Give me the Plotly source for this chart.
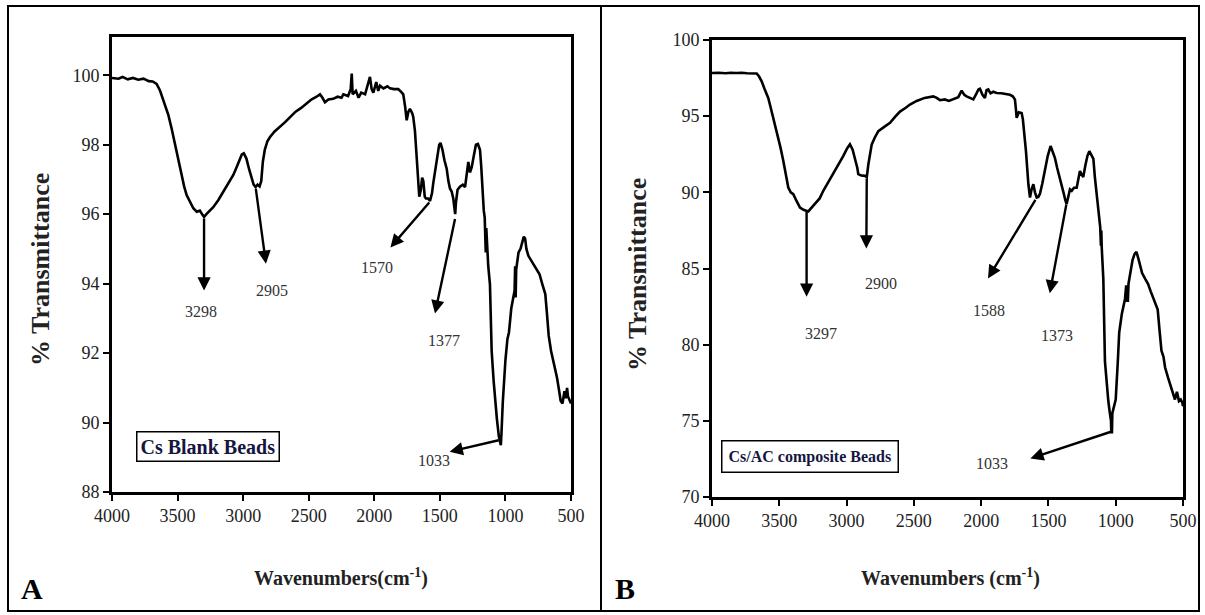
import plotly.graph_objects as go

# ---------------- FTIR spectra ----------------
# Panel A: chitosan (Cs) blank beads
wn_blank = [4000, 3950, 3920, 3880, 3840, 3800, 3760, 3720, 3690, 3660, 3634, 3615, 3596, 3570,
            3545, 3525, 3507, 3490, 3469, 3450, 3431, 3405, 3380, 3354, 3330, 3310, 3298, 3280,
            3250, 3228, 3190, 3151, 3110, 3075, 3050, 3030, 3010, 2995, 2975, 2955, 2935, 2920,
            2905, 2890, 2875, 2862, 2850, 2835, 2815, 2795, 2760, 2719, 2680, 2640, 2600, 2560,
            2520, 2480, 2440, 2414, 2395, 2376, 2350, 2313, 2280, 2250, 2236, 2200, 2180, 2172,
            2165, 2140, 2120, 2100, 2070, 2045, 2033, 2020, 2007, 1985, 1970, 1956, 1930, 1900,
            1880, 1850, 1817, 1790, 1779, 1765, 1753, 1740, 1728, 1710, 1703, 1690, 1682, 1672,
            1662, 1657, 1645, 1635, 1626, 1615, 1606, 1590, 1575, 1560, 1550, 1537, 1520, 1505,
            1495, 1480, 1465, 1448, 1435, 1423, 1410, 1398, 1390, 1383, 1377, 1365, 1347, 1325,
            1308, 1295, 1283, 1270, 1257, 1240, 1225, 1210, 1194, 1185, 1174, 1165, 1158, 1156,
            1153, 1150, 1146, 1140, 1131, 1118, 1105, 1090, 1080, 1065, 1050, 1040, 1035, 1030,
            1020, 1000, 985, 973, 955, 940, 930, 926, 922, 918, 912, 900, 885, 870, 860, 850,
            840, 825, 810, 798, 770, 740, 720, 696, 683, 670, 652, 630, 607, 590, 579, 565, 550,
            540, 530, 523, 510, 500]
t_blank = [99.92, 99.90, 99.95, 99.88, 99.92, 99.87, 99.90, 99.83, 99.82, 99.75, 99.56, 99.35, 99.18, 98.85,
           98.46, 98.10, 97.80, 97.50, 97.13, 96.80, 96.55, 96.35, 96.17, 96.07, 96.10, 95.98, 95.92, 96.00,
           96.10, 96.20, 96.40, 96.65, 96.90, 97.13, 97.35, 97.55, 97.72, 97.75, 97.60, 97.30, 97.00, 96.85,
           96.78, 96.85, 96.80, 96.95, 97.50, 97.85, 98.10, 98.22, 98.38, 98.51, 98.65, 98.80, 98.95, 99.05,
           99.18, 99.30, 99.38, 99.45, 99.35, 99.22, 99.30, 99.32, 99.38, 99.35, 99.45, 99.40, 99.60, 100.05,
           99.45, 99.55, 99.35, 99.50, 99.45, 99.75, 99.95, 99.60, 99.50, 99.80, 99.55, 99.70, 99.62, 99.68,
           99.62, 99.60, 99.60, 99.50, 99.45, 99.10, 98.70, 98.95, 99.03, 98.90, 98.80, 98.40, 97.98, 97.22,
           96.70, 96.50, 96.70, 97.05, 96.95, 96.50, 96.45, 96.45, 96.38, 96.60, 96.90, 97.22, 97.60, 98.00,
           98.05, 97.85, 97.55, 97.31, 96.95, 96.74, 96.65, 96.46, 96.20, 96.00, 96.35, 96.70, 96.79, 96.85,
           96.78, 97.10, 97.50, 97.20, 97.35, 97.70, 98.00, 98.02, 97.85, 97.40, 96.55, 96.10, 95.90, 95.20,
           95.80, 94.90, 95.60, 94.90, 94.50, 93.98, 92.06, 91.20, 90.63, 90.10, 89.60, 89.40, 89.35, 89.70,
           90.60, 91.80, 92.40, 92.60, 93.30, 93.60, 93.80, 94.50, 93.60, 94.40, 94.60, 94.90, 95.00, 95.25,
           95.35, 95.30, 95.00, 94.80, 94.70, 94.64, 94.45, 94.27, 94.00, 93.70, 93.12, 92.50, 92.06, 91.70,
           91.30, 90.90, 90.63, 90.55, 90.90, 90.70, 91.00, 90.75, 90.60, 90.55]

# Panel B: chitosan / activated carbon (Cs/AC) composite beads
wn_comp = [4000, 3950, 3900, 3860, 3820, 3780, 3740, 3700, 3668, 3650, 3631, 3610, 3582, 3565, 3545,
           3525, 3507, 3490, 3470, 3450, 3433, 3415, 3396, 3370, 3346, 3320, 3297, 3284, 3260, 3235,
           3200, 3173, 3140, 3099, 3060, 3024, 2995, 2975, 2955, 2937, 2920, 2913, 2890, 2863, 2850,
           2838, 2825, 2813, 2790, 2764, 2720, 2677, 2640, 2603, 2560, 2529, 2479, 2420, 2356, 2330,
           2306, 2270, 2240, 2207, 2170, 2145, 2125, 2108, 2085, 2058, 2040, 2020, 2009, 1990, 1972,
           1960, 1947, 1930, 1910, 1885, 1850, 1820, 1786, 1765, 1749, 1742, 1736, 1720, 1699, 1690,
           1682, 1667, 1649, 1637, 1625, 1612, 1600, 1587, 1575, 1563, 1545, 1526, 1505, 1484, 1470,
           1452, 1435, 1415, 1400, 1385, 1375, 1365, 1350, 1340, 1327, 1310, 1290, 1278, 1266, 1255,
           1241, 1225, 1210, 1196, 1185, 1166, 1155, 1141, 1130, 1122, 1115, 1110, 1107, 1104, 1100,
           1092, 1080, 1068, 1055, 1045, 1035, 1033, 1028, 1025, 1015, 1000, 985, 974, 955, 931, 922,
           918, 914, 910, 905, 890, 875, 860, 846, 830, 815, 804, 780, 760, 740, 716, 700, 688, 675,
           660, 645, 633, 610, 590, 575, 560, 545, 530, 517, 505, 500]
t_comp = [97.83, 97.85, 97.82, 97.85, 97.83, 97.85, 97.82, 97.83, 97.80, 97.60, 97.29, 96.80, 96.20, 95.60, 94.89,
          94.20, 93.58, 92.90, 92.06, 91.20, 90.31, 90.00, 89.88, 89.40, 89.00, 88.85, 88.80, 88.75, 89.00, 89.23,
          89.60, 90.10, 90.60, 91.19, 91.80, 92.39, 92.90, 93.15, 92.80, 92.27, 91.60, 91.19, 91.10, 91.08, 91.00,
          91.84, 92.60, 93.15, 93.60, 94.02, 94.30, 94.56, 94.95, 95.30, 95.55, 95.76, 96.00, 96.20, 96.30, 96.20,
          96.05, 96.10, 96.00, 96.10, 96.25, 96.68, 96.40, 96.30, 96.20, 96.10, 96.40, 96.75, 96.80, 96.40, 96.20,
          96.70, 96.75, 96.50, 96.60, 96.52, 96.50, 96.45, 96.40, 96.30, 96.10, 95.50, 94.89, 95.25, 95.20, 94.80,
          94.13, 92.71, 90.53, 89.66, 90.20, 90.53, 90.00, 89.66, 89.70, 89.90, 90.60, 91.41, 92.40, 93.04, 92.70,
          92.27, 91.60, 90.97, 90.40, 89.88, 89.50, 89.23, 89.80, 90.20, 90.10, 90.30, 90.30, 90.90, 91.40, 91.20,
          91.00, 91.80, 92.40, 92.70, 92.50, 92.20, 91.00, 89.75, 89.00, 88.45, 87.70, 86.50, 87.50, 86.40, 85.60,
          84.30, 78.90, 77.50, 76.30, 75.60, 75.00, 74.25, 74.25, 75.50, 75.80, 76.40, 78.80, 80.80, 82.00, 83.00, 83.90,
          82.80, 83.90, 82.80, 84.00, 84.80, 85.55, 85.95, 86.10, 85.60, 85.00, 84.70, 84.30, 84.00, 83.50, 82.90,
          82.50, 82.30, 81.00, 79.60, 79.20, 78.50, 77.80, 77.20, 76.80, 76.40, 76.90, 76.30, 76.40, 76.20, 75.95]

# Band assignments: (label, tail wn, tail %T, head wn, head %T, label wn, label %T)
bands_blank = [
    ("3298", 3298, 95.92, 3298, 93.80, 3322, 93.20),
    ("2905", 2905, 96.78, 2826, 94.57, 2780, 93.80),
    ("1570", 1571, 96.38, 1877, 95.04, 1979, 94.47),
    ("1377", 1382, 95.90, 1537, 93.14, 1469, 92.36),
    ("1033", 1040, 89.50, 1425, 89.16, 1542, 88.92),
]
bands_comp = [
    ("3297", 3297, 88.80, 3297, 83.15, 3190, 80.76),
    ("2900", 2850, 91.00, 2853, 86.32, 2745, 84.00),
    ("1588", 1590, 89.60, 1949, 84.35, 1945, 82.27),
    ("1373", 1365, 89.30, 1490, 83.37, 1440, 80.63),
    ("1033", 1030, 74.30, 1634, 72.53, 1920, 72.20),
]

yticks_blank = [88, 90, 92, 94, 96, 98, 100]
yticks_comp = [70, 75, 80, 85, 90, 95, 100]
xticks = [4000, 3500, 3000, 2500, 2000, 1500, 1000, 500]

W, H = 1205, 615
SERIF = "Liberation Serif, Times New Roman, serif"


def fx(p):
    return p / W


def fy(p):
    return 1 - p / H


fig = go.Figure()
fig.add_trace(go.Scatter(x=wn_blank, y=t_blank, mode="lines",
                         line=dict(color="black", width=2.6), xaxis="x", yaxis="y",
                         showlegend=False, hoverinfo="skip"))
fig.add_trace(go.Scatter(x=wn_comp, y=t_comp, mode="lines",
                         line=dict(color="black", width=2.6), xaxis="x2", yaxis="y2",
                         showlegend=False, hoverinfo="skip"))

axis_common = dict(showline=True, linecolor="black", linewidth=2.6, mirror=True,
                   ticks="outside", ticklen=6, tickwidth=2, tickcolor="black",
                   showgrid=False, zeroline=False, automargin=False,
                   tickfont=dict(family=SERIF, size=18, color="#222222"))

fig.update_layout(
    width=W, height=H,
    margin=dict(l=0, r=0, t=0, b=0, pad=0),
    paper_bgcolor="white", plot_bgcolor="white",
    xaxis=dict(domain=[fx(112), fx(571)], range=[4000, 500], tickvals=xticks,
               anchor="y", **axis_common),
    yaxis=dict(domain=[fy(492), fy(37)], range=[88, 101.1], tickvals=yticks_blank,
               anchor="x", **axis_common),
    xaxis2=dict(domain=[fx(712), fx(1183)], range=[4000, 500], tickvals=xticks,
                anchor="y2", **axis_common),
    yaxis2=dict(domain=[fy(497), fy(40)], range=[70, 100], tickvals=yticks_comp,
                anchor="x2", **axis_common),
)

annotations = []
for bands, xr, yr in ((bands_blank, "x", "y"), (bands_comp, "x2", "y2")):
    for label, tx, ty, hx, hy, lx, ly in bands:
        annotations.append(dict(x=hx, y=hy, ax=tx, ay=ty, xref=xr, yref=yr,
                                axref=xr, ayref=yr, text="", showarrow=True,
                                arrowhead=2, arrowsize=1.1, arrowwidth=2.4,
                                arrowcolor="black", standoff=0, startstandoff=0))
        annotations.append(dict(x=lx, y=ly, xref=xr, yref=yr, text=label,
                                showarrow=False, xanchor="center", yanchor="middle",
                                font=dict(family=SERIF, size=16, color="#333333")))


def paper_text(x, y, text, font, **kw):
    annotations.append(dict(x=fx(x), y=fy(y), xref="paper", yref="paper",
                            xanchor="center", yanchor="middle", text=text,
                            showarrow=False, font=font, **kw))


# Sample labels in framed boxes
paper_text(208, 446, "<b>Cs Blank Beads</b>",
           dict(family=SERIF, size=20, color="#15153f"),
           bordercolor="black", borderwidth=1.5, borderpad=3, bgcolor="white")
paper_text(810, 456, "<b>Cs/AC composite Beads</b>",
           dict(family=SERIF, size=16, color="#15153f"),
           bordercolor="black", borderwidth=1.5, borderpad=6, bgcolor="white")

# Axis titles
title_font = dict(family=SERIF, size=26, color="#222222")
paper_text(41, 270, "<b>% Transmittance</b>", title_font, textangle=-90)
paper_text(637, 275, "<b>% Transmittance</b>", title_font, textangle=-90)
xt_font = dict(family=SERIF, size=20, color="#222222")
paper_text(341, 577, "<b>Wavenumbers(cm<sup>-1</sup>)</b>", xt_font)
paper_text(950, 577, "<b>Wavenumbers (cm<sup>-1</sup>)</b>", xt_font)

# Panel letters
letter_font = dict(family=SERIF, size=30, color="black")
paper_text(32, 588, "<b>A</b>", letter_font)
paper_text(625, 588, "<b>B</b>", letter_font)

fig.update_layout(annotations=annotations)

# Outer frame and panel divider
fig.add_shape(type="rect", xref="paper", yref="paper",
              x0=fx(8), x1=fx(1199), y0=fy(611), y1=fy(6),
              line=dict(color="black", width=2))
fig.add_shape(type="line", xref="paper", yref="paper",
              x0=fx(601), x1=fx(601), y0=fy(611), y1=fy(6),
              line=dict(color="black", width=2))

fig.write_html("out.html")
